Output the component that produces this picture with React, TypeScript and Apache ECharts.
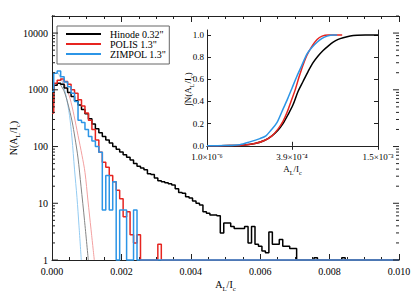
import React, { useEffect, useRef } from "react";
import * as echarts from "echarts";

// ---------- main histogram data (bin centres k * BIN_WIDTH, k = 0..100) ----------
const BIN_WIDTH = 0.0001;
const Y_FLOOR = 1; // empty bins are drawn on the bottom of the log axis

const HINODE = [
  600, 1200, 1300, 1250, 1080, 900, 760, 640, 540, 450,
  380, 310, 250, 205, 175, 150, 130, 115, 100, 90,
  80, 72, 65, 58, 50, 45, 42, 39, 33, 32,
  28, 25, 24, 23, 22, 21, 18, 15.5, 15, 13,
  12.4, 11, 10, 9.3, 7.1, 6.7, 6.2, 6.2, 6.0, 3.0,
  4.5, 4.5, 3.9, 3.6, 3.6, 3.6, 3.9, 2.0, 3.9, 1.9,
  1.75, 1.44, 1.34, 3.1, 1.9, 1.9, 2.3, 1.75, 1.75, 1.6,
  1.6, 0, 0, 0, 0, 0, 1.1, 0, 0, 0,
  0, 0, 0, 0, 1.1, 0, 0, 0, 0, 0,
  0, 0, 0, 0, 0, 0, 0, 0, 0, 0, 0,
];

const POLIS = [
  390, 1300, 1480, 1550, 1400, 1250, 1000, 870, 670, 520,
  390, 290, 200, 130, 79, 53, 43, 31, 24, 17,
  12, 5.8, 7.1, 2.8, 2.0, 2.8, 0, 0, 0, 0,
  0, 1.9, 0, 0, 0, 0, 0, 0, 0, 0,
  0, 0, 0, 0, 0, 0, 0, 0, 0, 0,
  0, 0, 0, 0, 0, 0, 0, 0, 0, 0,
  0, 0, 0, 0, 0, 0, 0, 0, 0, 0,
  0, 0, 0, 0, 0, 0, 0, 0, 0, 0,
  0, 0, 0, 0, 0, 0, 0, 0, 0, 0,
  0, 0, 0, 0, 0, 0, 0, 0, 0, 0, 0,
];

const ZIMPOL = [
  930, 1950, 2150, 1700, 1370, 1135, 870, 620, 290, 265,
  200, 150, 125, 100, 79, 7.6, 31, 7.6, 24, 0,
  7.6, 7.6, 0, 0, 7.6, 0, 0, 0, 0, 0,
  0, 0, 0, 0, 0, 0, 0, 0, 0, 0,
  0, 0, 0, 0, 0, 0, 0, 0, 0, 0,
  0, 0, 0, 0, 0, 0, 0, 0, 0, 0,
  0, 0, 0, 0, 0, 0, 0, 0, 0, 0,
  0, 0, 0, 0, 0, 0, 0, 0, 0, 0,
  0, 0, 0, 0, 0, 0, 0, 0, 0, 0,
  0, 0, 0, 0, 0, 0, 0, 0, 0, 0, 0,
];

// ---------- fitted curves (thin lines) ----------
const FIT_ZIMPOL_X = [0.000173, 0.000288, 0.000403, 0.000504, 0.000576, 0.000648, 0.00072, 0.000778, 0.000844];
const FIT_ZIMPOL_Y = [2000, 1410, 794, 355, 141, 40, 12.6, 4.0, 1];
const FIT_HINODE_X = [0.00023, 0.000346, 0.000461, 0.000576, 0.000663, 0.000749, 0.000836, 0.000937, 0.001046];
const FIT_HINODE_Y = [1260, 955, 562, 282, 141, 63, 20, 5.0, 1];
const FIT_POLIS_X = [0.000288, 0.000403, 0.000519, 0.000634, 0.000749, 0.000865, 0.000951, 0.001037, 0.001124, 0.001219];
const FIT_POLIS_Y = [1480, 1120, 708, 355, 158, 70, 35, 11, 3.5, 1];

// ---------- inset: cumulative distributions ----------
const CDF_ZIMPOL_X = [1.0e-6, 2.42e-5, 6.79e-5, 1.093e-4, 1.605e-4, 1.959e-4, 2.281e-4, 2.7e-4, 3.077e-4, 3.477e-4, 3.902e-4, 4.352e-4, 4.826e-4, 5.325e-4, 5.848e-4, 6.396e-4, 6.968e-4, 7.565e-4, 8.313e-4, 8.832e-4];
const CDF_ZIMPOL_Y = [0, 0.002, 0.01, 0.035, 0.065, 0.09, 0.14, 0.21, 0.31, 0.41, 0.52, 0.63, 0.73, 0.83, 0.89, 0.935, 0.97, 0.99, 1.0, 1.0];
const CDF_POLIS_X = [1.0e-6, 3.63e-5, 8.74e-5, 1.337e-4, 1.898e-4, 2.349e-4, 2.774e-4, 3.155e-4, 3.477e-4, 3.815e-4, 4.169e-4, 4.539e-4, 4.924e-4, 5.325e-4, 5.848e-4, 6.396e-4, 6.968e-4, 7.687e-4, 9.502e-4];
const CDF_POLIS_Y = [0, 0.002, 0.008, 0.02, 0.05, 0.09, 0.15, 0.22, 0.3, 0.4, 0.5, 0.62, 0.73, 0.82, 0.9, 0.96, 0.99, 1.0, 1.0];
const CDF_HINODE_X = [1.0e-6, 3.63e-5, 8.74e-5, 1.337e-4, 1.898e-4, 2.349e-4, 2.774e-4, 3.155e-4, 3.56e-4, 3.99e-4, 4.445e-4, 4.924e-4, 5.428e-4, 5.955e-4, 6.508e-4, 7.085e-4, 7.687e-4, 8.313e-4, 8.964e-4, 9.639e-4, 1.0626e-3, 1.166e-3, 1.2901e-3, 1.5e-3];
const CDF_HINODE_Y = [0, 0.002, 0.008, 0.02, 0.05, 0.09, 0.14, 0.2, 0.28, 0.37, 0.49, 0.58, 0.67, 0.75, 0.81, 0.86, 0.9, 0.935, 0.96, 0.975, 0.99, 0.997, 1.0, 1.0];

// ---------- axis ticks / labels ----------
const MAIN_X_MIN = 0;
const MAIN_X_MAX = 0.01;
const MAIN_X_INTERVAL = 0.002;
const MAIN_Y_MIN = 1;
const MAIN_Y_MAX = 20000;
const MAIN_Y_LABELS = [1, 10, 100, 1000, 10000];
const INSET_X_MIN = 1.0e-6;
const INSET_X_MAX = 1.5e-3;
const INSET_X_TICKS = [1.0e-6, 3.9e-4, 1.5e-3];
const INSET_X_LABELS = ["1.0×10⁻⁶", "3.9×10⁻⁴", "1.5×10⁻³"];
const INSET_Y_TICKS = [0, 0.2, 0.4, 0.6, 0.8, 1.0];

const LEGEND_NAMES = ['Hinode 0.32"', 'POLIS 1.3"', 'ZIMPOL 1.3"'];

const C_BLACK = "#000000";
const C_RED = "#e62520";
const C_BLUE = "#2c95e6";
const C_BLACK_FIT = "#858585";
const C_RED_FIT = "#f3a0a0";
const C_BLUE_FIT = "#93cbf2";
const AXIS = "#222222";
const FONT = "Liberation Serif";

const hist = (vals: number[]) => vals.map((v, k) => [k * BIN_WIDTH, v > 0 ? v : Y_FLOOR]);
const pairs = (xs: number[], ys: number[]) => xs.map((x, i) => [x, ys[i]]);
const sqrtPairs = (xs: number[], ys: number[]) => xs.map((x, i) => [Math.sqrt(x), ys[i]]);

const logTicks: number[][] = [];
for (let d = 1; d <= 10000; d *= 10) {
  for (let m = 1; m <= 9; m++) {
    const v = d * m;
    if (v <= MAIN_Y_MAX) logTicks.push([0, v, m === 1 ? 1 : 0]);
  }
}

const richName = () => `{a|A}{s|L}{a|/I}{s|c}`;

const richStyles = (size: number) => ({
  a: { fontFamily: FONT, fontSize: size, color: "#000", verticalAlign: "bottom" as const, lineHeight: size + 2 },
  s: { fontFamily: FONT, fontSize: size * 0.68, color: "#000", verticalAlign: "bottom" as const, lineHeight: size - 1, padding: [0, 0, -3, 0] },
});

export default function App() {
  const ref = useRef<HTMLDivElement>(null);

  useEffect(() => {
    if (!ref.current) return;
    const chart = echarts.init(ref.current, undefined, { renderer: "svg" });

    const insetSqrtMin = Math.sqrt(INSET_X_MIN);
    const insetSqrtMax = Math.sqrt(INSET_X_MAX);
    const insetTickVals = INSET_X_TICKS.map((v) => Math.sqrt(v));
    const insetLabelFor = (val: number) => {
      let best = 0;
      insetTickVals.forEach((t, i) => {
        if (Math.abs(t - val) < Math.abs(insetTickVals[best] - val)) best = i;
      });
      return INSET_X_LABELS[best];
    };

    const mainXAxisCommon = {
      type: "value" as const,
      gridIndex: 0,
      min: MAIN_X_MIN,
      max: MAIN_X_MAX,
      interval: MAIN_X_INTERVAL,
      axisLine: { show: true, lineStyle: { color: AXIS, width: 1 } },
      axisTick: { show: true, inside: true, length: 6, lineStyle: { color: AXIS } },
      minorTick: { show: true, splitNumber: 4, length: 3, lineStyle: { color: AXIS } },
      splitLine: { show: false },
      minorSplitLine: { show: false },
    };

    const option: any = {
      animation: false,
      backgroundColor: "#ffffff",
      textStyle: { fontFamily: FONT },
      grid: [
        { left: 52, right: 16, top: 16, bottom: 33 },
        { left: 207, right: 37, top: 30, bottom: 149 },
      ],
      legend: {
        data: LEGEND_NAMES,
        orient: "vertical",
        left: 57,
        top: 26,
        icon: "rect",
        itemWidth: 35,
        itemHeight: 2,
        itemGap: 0,
        padding: [3, 3, 5, 9],
        backgroundColor: "#ffffff",
        borderColor: "#666666",
        borderWidth: 1,
        borderRadius: 0,
        textStyle: { fontFamily: FONT, fontSize: 10, color: "#000", lineHeight: 9, padding: [0, 0, 0, 4] },
      },
      xAxis: [
        {
          ...mainXAxisCommon,
          position: "bottom",
          axisLabel: {
            show: true,
            margin: 6,
            fontFamily: FONT,
            fontSize: 10,
            color: "#000",
            formatter: (v: number) => v.toFixed(3),
          },
          name: richName(),
          nameLocation: "middle",
          nameGap: 17,
          nameMoveOverlap: false,
          nameTextStyle: { rich: richStyles(10) },
        },
        { ...mainXAxisCommon, position: "top", axisLabel: { show: false } },
        {
          type: "value",
          gridIndex: 1,
          position: "bottom",
          min: insetSqrtMin,
          max: insetSqrtMax,
          axisLine: { show: true, lineStyle: { color: AXIS, width: 1 } },
          axisTick: { show: true, inside: true, length: 4, customValues: insetTickVals, lineStyle: { color: AXIS } },
          axisLabel: {
            show: true,
            customValues: insetTickVals,
            margin: 4,
            fontFamily: FONT,
            fontSize: 9,
            color: "#000",
            formatter: (v: number) => insetLabelFor(v),
          },
          splitLine: { show: false },
          name: richName(),
          nameLocation: "middle",
          nameGap: 14,
          nameMoveOverlap: false,
          nameTextStyle: { rich: richStyles(9) },
        },
        {
          type: "value",
          gridIndex: 1,
          position: "top",
          min: insetSqrtMin,
          max: insetSqrtMax,
          axisLine: { show: true, lineStyle: { color: AXIS, width: 1 } },
          axisTick: { show: true, inside: true, length: 4, customValues: insetTickVals, lineStyle: { color: AXIS } },
          axisLabel: { show: false },
          splitLine: { show: false },
        },
      ],
      yAxis: [
        {
          type: "log",
          logBase: 10,
          gridIndex: 0,
          position: "left",
          min: MAIN_Y_MIN,
          max: MAIN_Y_MAX,
          axisLine: { show: true, lineStyle: { color: AXIS, width: 1 } },
          axisTick: { show: false },
          axisLabel: {
            show: true,
            customValues: MAIN_Y_LABELS,
            margin: 4,
            fontFamily: FONT,
            fontSize: 10,
            color: "#000",
            formatter: (v: number) => String(Math.round(v)),
          },
          splitLine: { show: false },
          name: `{a|N(A}{s|L}{a|/I}{s|c}{a|)}`,
          nameLocation: "middle",
          nameGap: 34,
          nameMoveOverlap: false,
          nameTextStyle: { rich: richStyles(10) },
        },
        {
          type: "log",
          logBase: 10,
          gridIndex: 0,
          position: "right",
          min: MAIN_Y_MIN,
          max: MAIN_Y_MAX,
          axisLine: { show: true, lineStyle: { color: AXIS, width: 1 } },
          axisTick: { show: false },
          axisLabel: { show: false },
          splitLine: { show: false },
        },
        {
          type: "value",
          gridIndex: 1,
          position: "left",
          min: -0.02,
          max: 1.045,
          axisLine: { show: true, lineStyle: { color: AXIS, width: 1 } },
          axisTick: { show: true, inside: true, length: 4, customValues: INSET_Y_TICKS, lineStyle: { color: AXIS } },
          axisLabel: {
            show: true,
            customValues: INSET_Y_TICKS,
            margin: 3,
            fontFamily: FONT,
            fontSize: 9,
            color: "#000",
            formatter: (v: number) => v.toFixed(1),
          },
          splitLine: { show: false },
          name: `{a|∫N(A}{s|L}{a|/I}{s|c}{a|)}`,
          nameLocation: "middle",
          nameGap: 15,
          nameMoveOverlap: false,
          nameTextStyle: { rich: richStyles(9) },
        },
        {
          type: "value",
          gridIndex: 1,
          position: "right",
          min: -0.02,
          max: 1.045,
          axisLine: { show: true, lineStyle: { color: AXIS, width: 1 } },
          axisTick: { show: true, inside: true, length: 4, customValues: INSET_Y_TICKS, lineStyle: { color: AXIS } },
          axisLabel: { show: false },
          splitLine: { show: false },
        },
      ],
      series: [
        {
          name: "log ticks",
          type: "custom",
          xAxisIndex: 0,
          yAxisIndex: 0,
          silent: true,
          clip: false,
          z: 10,
          data: logTicks,
          renderItem: (_params: any, api: any) => {
            const v = api.value(1);
            const major = api.value(2) === 1;
            const l = api.coord([MAIN_X_MIN, v]);
            const r = api.coord([MAIN_X_MAX, v]);
            const len = major ? 6 : 3;
            const st = { stroke: AXIS, lineWidth: 1 };
            return {
              type: "group",
              children: [
                { type: "line", shape: { x1: l[0], y1: l[1], x2: l[0] + len, y2: l[1] }, style: st },
                { type: "line", shape: { x1: r[0] - len, y1: r[1], x2: r[0], y2: r[1] }, style: st },
              ],
            };
          },
        },
        {
          name: "ZIMPOL fit",
          type: "line",
          xAxisIndex: 0,
          yAxisIndex: 0,
          data: pairs(FIT_ZIMPOL_X, FIT_ZIMPOL_Y),
          smooth: 0.3,
          symbol: "none",
          lineStyle: { color: C_BLUE_FIT, width: 1 },
        },
        {
          name: "Hinode fit",
          type: "line",
          xAxisIndex: 0,
          yAxisIndex: 0,
          data: pairs(FIT_HINODE_X, FIT_HINODE_Y),
          smooth: 0.3,
          symbol: "none",
          lineStyle: { color: C_BLACK_FIT, width: 1 },
        },
        {
          name: "POLIS fit",
          type: "line",
          xAxisIndex: 0,
          yAxisIndex: 0,
          data: pairs(FIT_POLIS_X, FIT_POLIS_Y),
          smooth: 0.3,
          symbol: "none",
          lineStyle: { color: C_RED_FIT, width: 1 },
        },
        {
          name: LEGEND_NAMES[0],
          type: "line",
          xAxisIndex: 0,
          yAxisIndex: 0,
          data: hist(HINODE),
          step: "middle",
          symbol: "none",
          clip: false,
          lineStyle: { color: C_BLACK, width: 1.5 },
          itemStyle: { color: C_BLACK },
        },
        {
          name: LEGEND_NAMES[1],
          type: "line",
          xAxisIndex: 0,
          yAxisIndex: 0,
          data: hist(POLIS),
          step: "middle",
          symbol: "none",
          clip: false,
          lineStyle: { color: C_RED, width: 1.5 },
          itemStyle: { color: C_RED },
        },
        {
          name: LEGEND_NAMES[2],
          type: "line",
          xAxisIndex: 0,
          yAxisIndex: 0,
          data: hist(ZIMPOL),
          step: "middle",
          symbol: "none",
          clip: false,
          lineStyle: { color: C_BLUE, width: 1.5 },
          itemStyle: { color: C_BLUE },
        },
        {
          name: "Hinode cumulative",
          type: "line",
          xAxisIndex: 2,
          yAxisIndex: 2,
          data: sqrtPairs(CDF_HINODE_X, CDF_HINODE_Y),
          smooth: 0.3,
          symbol: "none",
          lineStyle: { color: C_BLACK, width: 1.5 },
        },
        {
          name: "POLIS cumulative",
          type: "line",
          xAxisIndex: 2,
          yAxisIndex: 2,
          data: sqrtPairs(CDF_POLIS_X, CDF_POLIS_Y),
          smooth: 0.3,
          symbol: "none",
          lineStyle: { color: C_RED, width: 1.5 },
        },
        {
          name: "ZIMPOL cumulative",
          type: "line",
          xAxisIndex: 2,
          yAxisIndex: 2,
          data: sqrtPairs(CDF_ZIMPOL_X, CDF_ZIMPOL_Y),
          smooth: 0.3,
          symbol: "none",
          lineStyle: { color: C_BLUE, width: 1.5 },
        },
      ],
    };

    chart.setOption(option);
    return () => chart.dispose();
  }, []);

  return <div ref={ref} style={{ width: 415, height: 297, position: "absolute", left: 0, top: 0 }} />;
}
